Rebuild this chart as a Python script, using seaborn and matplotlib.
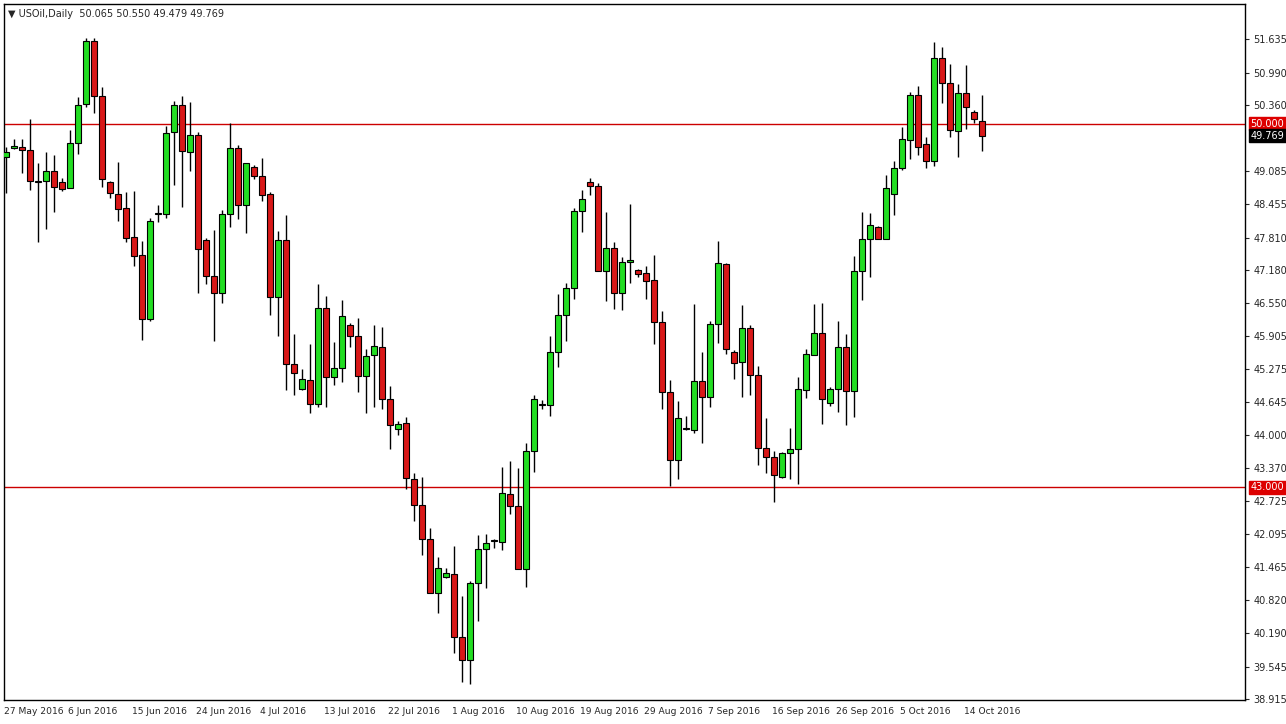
import matplotlib
matplotlib.use("Agg")
import matplotlib.pyplot as plt
import seaborn as sns
import pandas as pd
import numpy as np

# daily OHLC (one bar per trading session)
opens = [49.36, 49.53, 49.55, 49.50, 48.88, 48.90, 49.09, 48.88, 48.76, 49.63,
         50.38, 51.60, 50.54, 48.88, 48.65, 48.38, 47.82, 47.47, 46.24, 48.26,
         48.26, 49.84, 50.36, 49.46, 49.78, 47.76, 47.07, 46.74, 48.26, 49.53,
         48.44, 49.17, 48.99, 48.65, 46.66, 47.76, 45.37, 44.89, 45.06, 44.60,
         46.45, 45.12, 45.30, 46.12, 45.91, 45.14, 45.55, 45.70, 44.70, 44.12,
         44.24, 43.16, 42.66, 42.00, 40.96, 41.27, 41.33, 40.11, 39.67, 41.15,
         41.81, 41.96, 41.94, 42.87, 42.64, 41.42, 43.70, 44.58, 44.58, 45.60,
         46.32, 46.84, 48.32, 48.88, 48.80, 47.16, 47.61, 46.74, 47.34, 47.18,
         47.13, 46.99, 46.18, 44.83, 43.52, 44.12, 44.10, 45.04, 44.74, 46.14,
         47.30, 45.60, 45.41, 46.07, 45.16, 43.75, 43.58, 43.20, 43.66, 43.73,
         44.87, 45.55, 45.97, 44.62, 44.89, 45.70, 44.85, 47.16, 47.78, 48.01,
         47.78, 48.65, 49.15, 49.69, 50.56, 49.61, 49.28, 51.27, 50.79, 49.86,
         50.59, 50.23, 50.065]
highs = [49.55, 49.71, 49.71, 50.09, 49.25, 49.46, 49.40, 48.96, 49.88, 50.52,
         51.65, 51.65, 50.71, 48.90, 49.27, 48.69, 48.71, 47.74, 48.19, 48.44,
         49.96, 50.44, 50.54, 50.42, 49.84, 47.80, 47.95, 48.34, 50.02, 49.59,
         49.25, 49.21, 49.34, 48.69, 47.93, 48.24, 45.95, 45.28, 45.76, 46.91,
         46.68, 45.80, 46.61, 46.16, 46.26, 45.66, 46.12, 46.09, 44.95, 44.27,
         44.35, 43.27, 43.20, 42.21, 41.65, 41.44, 41.87, 40.90, 41.19, 42.08,
         42.10, 42.00, 43.39, 43.50, 43.37, 43.85, 44.78, 44.68, 45.91, 46.72,
         46.93, 48.38, 48.73, 48.96, 48.86, 48.30, 47.72, 47.43, 48.46, 47.20,
         47.26, 47.47, 46.39, 45.06, 44.66, 44.37, 46.53, 45.60, 46.20, 47.74,
         47.32, 45.64, 46.51, 46.12, 45.33, 44.33, 43.70, 43.68, 44.14, 45.12,
         45.66, 46.53, 46.55, 44.93, 46.20, 45.95, 47.45, 48.30, 48.28, 48.03,
         49.01, 49.28, 49.94, 50.61, 50.73, 49.75, 51.58, 51.48, 51.15, 50.77,
         51.13, 50.27, 50.550]
lows = [48.67, 49.52, 49.05, 48.73, 47.72, 47.97, 48.30, 48.71, 48.76, 49.42,
        50.32, 50.21, 48.78, 48.57, 48.13, 47.72, 47.26, 45.83, 46.20, 48.11,
        48.19, 48.82, 48.40, 49.09, 46.74, 46.91, 45.82, 46.55, 48.01, 48.17,
        47.90, 48.94, 48.51, 46.32, 45.91, 44.87, 44.78, 44.87, 44.43, 44.54,
        44.54, 44.97, 45.03, 45.70, 44.83, 44.43, 44.54, 44.51, 43.73, 44.00,
        42.96, 42.35, 41.69, 40.96, 40.58, 41.25, 39.80, 39.25, 39.21, 40.42,
        41.06, 41.83, 41.79, 42.48, 41.42, 41.08, 43.29, 44.51, 44.37, 45.31,
        45.82, 46.62, 47.92, 48.63, 47.16, 46.59, 46.43, 46.41, 46.93, 47.05,
        46.62, 45.76, 44.51, 43.02, 43.16, 44.10, 44.04, 43.85, 44.54, 45.78,
        45.57, 45.08, 44.74, 44.78, 43.43, 43.27, 42.71, 43.18, 43.16, 43.06,
        44.72, 45.55, 44.22, 44.56, 44.45, 44.20, 44.35, 46.61, 47.05, 47.78,
        47.78, 48.24, 49.11, 49.32, 49.40, 49.15, 49.19, 50.40, 49.75, 49.36,
        49.90, 50.02, 49.479]
closes = [49.46, 49.57, 49.50, 48.90, 48.88, 49.09, 48.78, 48.74, 49.63, 50.36,
          51.60, 50.54, 48.94, 48.67, 48.36, 47.80, 47.45, 46.24, 48.13, 48.26,
          49.82, 50.36, 49.48, 49.78, 47.59, 47.07, 46.74, 48.26, 49.53, 48.44,
          49.25, 48.99, 48.63, 46.66, 47.76, 45.37, 45.20, 45.08, 44.60, 46.45,
          45.12, 45.30, 46.30, 45.91, 45.14, 45.53, 45.72, 44.70, 44.20, 44.22,
          43.18, 42.66, 42.00, 40.96, 41.44, 41.35, 40.11, 39.67, 41.15, 41.81,
          41.92, 41.96, 42.89, 42.64, 41.42, 43.70, 44.70, 44.58, 45.60, 46.32,
          46.84, 48.32, 48.55, 48.80, 47.16, 47.61, 46.74, 47.34, 47.38, 47.11,
          46.97, 46.18, 44.83, 43.52, 44.33, 44.12, 45.04, 44.74, 46.14, 47.32,
          45.66, 45.39, 46.07, 45.16, 43.75, 43.58, 43.23, 43.66, 43.73, 44.89,
          45.57, 45.97, 44.70, 44.89, 45.70, 44.85, 47.16, 47.78, 48.05, 47.78,
          48.76, 49.15, 49.71, 50.56, 49.55, 49.28, 51.27, 50.79, 49.88, 50.59,
          50.32, 50.09, 49.769]

date_labels = ["27 May 2016", "6 Jun 2016", "15 Jun 2016", "24 Jun 2016", "4 Jul 2016",
               "13 Jul 2016", "22 Jul 2016", "1 Aug 2016", "10 Aug 2016", "19 Aug 2016",
               "29 Aug 2016", "7 Sep 2016", "16 Sep 2016", "26 Sep 2016", "5 Oct 2016",
               "14 Oct 2016"]
price_ticks = [38.915, 39.545, 40.190, 40.820, 41.465, 42.095, 42.725, 43.370, 44.000,
               44.645, 45.275, 45.905, 46.550, 47.180, 47.810, 48.455, 49.085, 50.360,
               50.990, 51.635]
levels = [50.0, 43.0]

df = pd.DataFrame({"open": opens, "high": highs, "low": lows, "close": closes})
df["bar"] = np.arange(len(df))
df["up"] = df.close >= df.open

sns.set_style("white")
plt.rcParams["font.family"] = ["DejaVu Sans"]

fig = plt.figure(figsize=(12.86, 7.24), dpi=100)
ax = fig.add_axes([4 / 1286, 24 / 724, 1241 / 1286, 696 / 724])

green, red = "#22dd22", "#d81818"
ax.vlines(df.bar, df.low, df.high, color="black", lw=1, zorder=2)
body_lo = np.minimum(df.open, df.close)
body_h = np.maximum((df.close - df.open).abs(), 0.02)
ax.bar(df.bar, body_h, bottom=body_lo, width=0.75,
       color=np.where(df.up, green, red), edgecolor="black", linewidth=0.8, zorder=3)

for lv in levels:
    ax.axhline(lv, color="#cc0000", lw=1, zorder=1)

ax.set_xlim(-0.25, 154.9)
ax.set_ylim(38.90, 52.31)
for s in ax.spines.values():
    s.set_color("black")
    s.set_linewidth(1)

ax.yaxis.tick_right()
ax.set_yticks(price_ticks)
ax.set_yticklabels([f"{t:.3f}" for t in price_ticks], fontsize=7)
ax.tick_params(axis="y", direction="out", length=3, pad=3)

ax.set_xticks(np.arange(len(date_labels)) * 8 - 0.25)
ax.set_xticklabels(date_labels, fontsize=6.6, ha="left")
ax.tick_params(axis="x", direction="out", length=3, pad=2)

# price tags on the right axis
tags = [(50.0, "50.000", "#dd0000"), (closes[-1], f"{closes[-1]:.3f}", "black"),
        (43.0, "43.000", "#dd0000")]
for val, txt, col in tags:
    ax.annotate(txt, xy=(1, val), xycoords=("axes fraction", "data"), xytext=(4, 0),
                textcoords="offset points", va="center", ha="left", fontsize=7,
                color="white", bbox=dict(boxstyle="square,pad=0.15", fc=col, ec=col))

ax.text(0.003, 0.993, "\u25bc USOil,Daily  50.065 50.550 49.479 49.769",
        transform=ax.transAxes, fontsize=7, va="top", ha="left")

fig.savefig("out.png", dpi=100, facecolor="white")
